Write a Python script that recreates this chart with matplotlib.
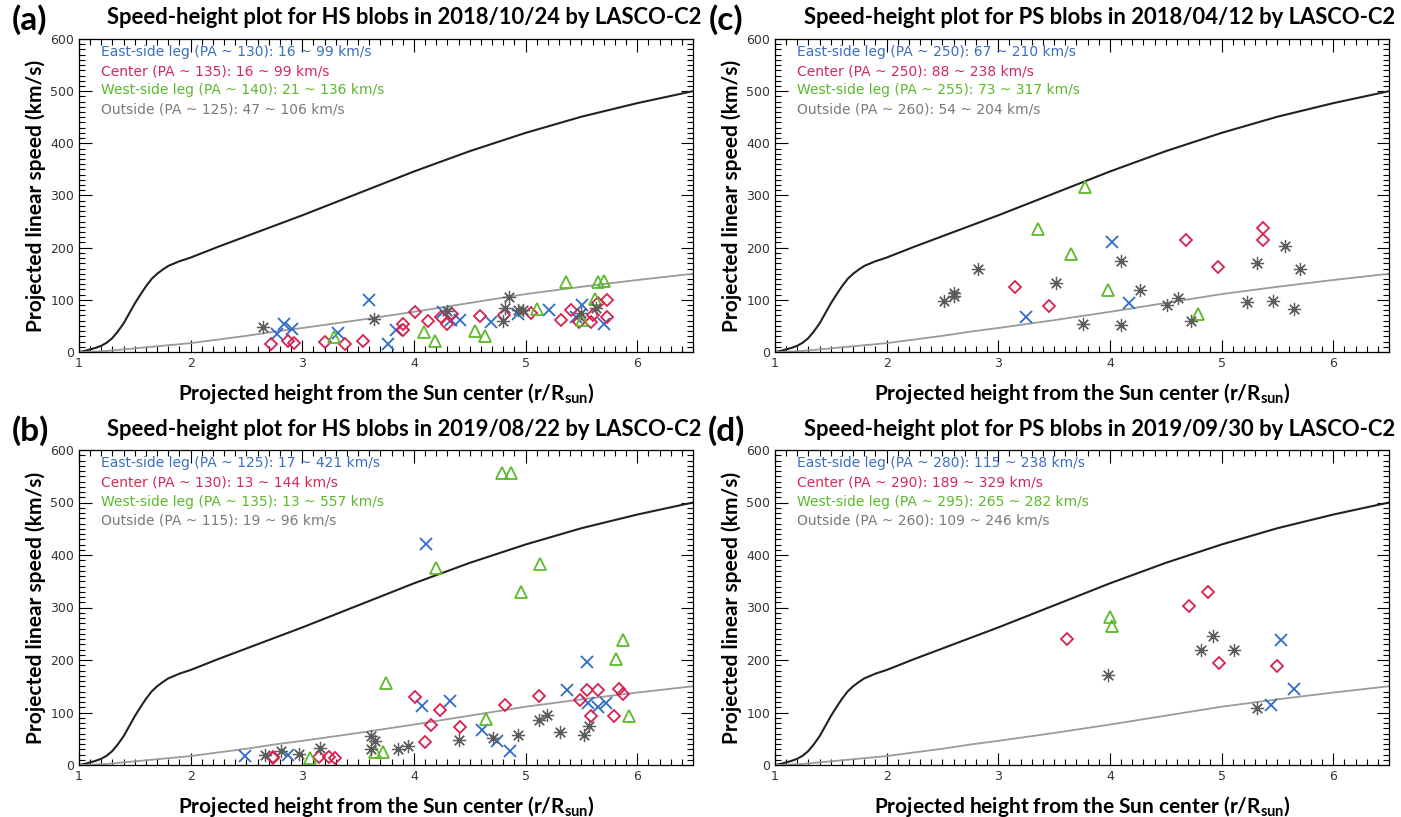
import numpy as np
import matplotlib
matplotlib.use('Agg')
import matplotlib.pyplot as plt
from matplotlib.ticker import MultipleLocator

# ─── reference speed profiles (same in every panel) ───
CURVE_H = [1.00, 1.05, 1.10, 1.15, 1.20, 1.25, 1.30, 1.35, 1.40, 1.45, 1.50,
           1.55, 1.60, 1.65, 1.70, 1.75, 1.80, 1.90, 2.00, 2.25, 2.50, 2.75,
           3.00, 3.50, 4.00, 4.50, 5.00, 5.50, 6.00, 6.50]
CURVE_FAST = [0, 2, 5, 8, 12, 18, 27, 40, 55, 74, 93, 110, 126, 140, 150,
              158, 165, 174, 181, 202, 222, 242, 262, 304, 346, 385, 420,
              451, 477, 500]
CURVE_SLOW = [0, 0, 0.5, 1, 1.5, 2, 3, 4, 5, 6, 7, 8, 9, 10, 11, 12, 13, 15,
              17, 24, 31, 39, 46, 61, 77, 94, 111, 125, 138, 150]

# ─── panel (a) HS blobs 2018/10/24 ───
A_EAST_H = [2.77, 2.84, 2.91, 3.32, 3.60, 3.77, 3.84, 4.26, 4.33, 4.41, 4.69,
            4.93, 5.21, 5.45, 5.51, 5.70]
A_EAST_V = [35, 53, 45, 37, 99, 16, 43, 77, 62, 61, 57, 73, 81, 67, 91, 53]
A_CEN_H = [2.72, 2.87, 2.93, 3.20, 3.38, 3.54, 3.90, 3.90, 4.01, 4.13, 4.24,
           4.30, 4.34, 4.59, 4.81, 5.05, 5.32, 5.41, 5.48, 5.59, 5.60, 5.65,
           5.73, 5.73]
A_CEN_V = [16, 22, 17, 19, 16, 22, 54, 43, 76, 59, 67, 53, 73, 69, 70, 75,
           61, 81, 57, 57, 70, 93, 99, 67]
A_WEST_H = [3.28, 4.09, 4.19, 4.55, 4.64, 5.10, 5.36, 5.62, 5.65, 5.70, 5.51]
A_WEST_V = [29, 38, 21, 40, 30, 83, 134, 102, 134, 136, 61]
A_OUT_H = [2.65, 3.64, 4.30, 4.85, 4.82, 4.80, 4.93, 4.98, 5.50, 5.63]
A_OUT_V = [47, 64, 78, 106, 85, 59, 81, 80, 75, 85]

# ─── panel (b) HS blobs 2019/08/22 ───
B_EAST_H = [2.49, 2.87, 4.07, 4.11, 4.32, 4.61, 4.74, 4.86, 5.37, 5.55, 5.56,
            5.65, 5.72]
B_EAST_V = [17, 19, 112, 421, 121, 67, 45, 27, 142, 196, 119, 110, 118]
B_CEN_H = [2.74, 2.74, 3.15, 3.24, 3.29, 4.01, 4.10, 4.15, 4.23, 4.41, 4.82,
           5.12, 5.49, 5.55, 5.59, 5.65, 5.79, 5.84, 5.87]
B_CEN_V = [16, 13, 15, 16, 13, 130, 43, 77, 105, 72, 114, 131, 123, 142, 94,
           142, 93, 144, 135]
B_WEST_H = [3.07, 3.65, 3.72, 3.75, 4.20, 4.65, 4.79, 4.87, 4.96, 5.13, 5.81,
            5.87, 5.93]
B_WEST_V = [13, 24, 24, 156, 376, 87, 557, 557, 330, 383, 202, 239, 93]
B_OUT_H = [2.67, 2.81, 2.97, 3.16, 3.62, 3.65, 3.62, 3.86, 3.95, 4.40, 4.71,
           4.93, 5.12, 5.19, 5.31, 5.52, 5.57]
B_OUT_V = [19, 27, 21, 32, 56, 45, 30, 30, 36, 47, 51, 57, 85, 96, 62, 57, 75]

# ─── panel (c) PS blobs 2018/04/12 ───
C_EAST_H = [3.25, 4.02, 4.17]
C_EAST_V = [67, 210, 93]
C_CEN_H = [3.15, 3.45, 4.68, 4.97, 5.37, 5.37]
C_CEN_V = [125, 88, 214, 163, 214, 238]
C_WEST_H = [3.36, 3.65, 3.78, 3.98, 4.79]
C_WEST_V = [235, 188, 317, 118, 73]
C_OUT_H = [2.51, 2.60, 2.60, 2.82, 3.52, 3.76, 4.10, 4.10, 4.27, 4.51, 4.61,
           4.73, 5.23, 5.32, 5.46, 5.57, 5.65, 5.70]
C_OUT_V = [98, 107, 114, 160, 132, 54, 174, 52, 119, 90, 104, 59, 96, 171,
           98, 204, 82, 160]

# ─── panel (d) PS blobs 2019/09/30 ───
D_EAST_H = [5.44, 5.53, 5.65]
D_EAST_V = [115, 238, 144]
D_CEN_H = [3.62, 4.71, 4.88, 4.98, 5.50]
D_CEN_V = [240, 302, 329, 195, 189]
D_WEST_H = [4.00, 4.02]
D_WEST_V = [282, 265]
D_OUT_H = [3.98, 4.82, 4.92, 5.11, 5.32]
D_OUT_V = [171, 219, 246, 219, 109]

TITLES = ['Speed-height plot for HS blobs in 2018/10/24 by LASCO-C2',
          'Speed-height plot for HS blobs in 2019/08/22 by LASCO-C2',
          'Speed-height plot for PS blobs in 2018/04/12 by LASCO-C2',
          'Speed-height plot for PS blobs in 2019/09/30 by LASCO-C2']
LETTERS = ['(a)', '(b)', '(c)', '(d)']
LEGENDS = [
    ['East-side leg (PA ~ 130): 16 ~ 99 km/s', 'Center (PA ~ 135): 16 ~ 99 km/s',
     'West-side leg (PA ~ 140): 21 ~ 136 km/s', 'Outside (PA ~ 125): 47 ~ 106 km/s'],
    ['East-side leg (PA ~ 125): 17 ~ 421 km/s', 'Center (PA ~ 130): 13 ~ 144 km/s',
     'West-side leg (PA ~ 135): 13 ~ 557 km/s', 'Outside (PA ~ 115): 19 ~ 96 km/s'],
    ['East-side leg (PA ~ 250): 67 ~ 210 km/s', 'Center (PA ~ 250): 88 ~ 238 km/s',
     'West-side leg (PA ~ 255): 73 ~ 317 km/s', 'Outside (PA ~ 260): 54 ~ 204 km/s'],
    ['East-side leg (PA ~ 280): 115 ~ 238 km/s', 'Center (PA ~ 290): 189 ~ 329 km/s',
     'West-side leg (PA ~ 295): 265 ~ 282 km/s', 'Outside (PA ~ 260): 109 ~ 246 km/s'],
]
PANELS = [
    [(A_EAST_H, A_EAST_V), (A_CEN_H, A_CEN_V), (A_WEST_H, A_WEST_V), (A_OUT_H, A_OUT_V)],
    [(B_EAST_H, B_EAST_V), (B_CEN_H, B_CEN_V), (B_WEST_H, B_WEST_V), (B_OUT_H, B_OUT_V)],
    [(C_EAST_H, C_EAST_V), (C_CEN_H, C_CEN_V), (C_WEST_H, C_WEST_V), (C_OUT_H, C_OUT_V)],
    [(D_EAST_H, D_EAST_V), (D_CEN_H, D_CEN_V), (D_WEST_H, D_WEST_V), (D_OUT_H, D_OUT_V)],
]

TXT_COL = ['#3b6fc0', '#d6285a', '#5cb82c', '#7a7a7a']
MK_COL = ['#2f6bc8', '#d8204e', '#5cba2a', '#5c5c5c']
MARKERS = ['x', 'D', '^', (8, 2, 0)]
MSIZE = [9, 6.5, 8, 9.5]

W, H = 1401, 817
fig = plt.figure(figsize=(W / 100, H / 100), dpi=100)
TITLE_FONT = ['Lato', 'DejaVu Sans']

# pixel boxes: left, top, bottom of axes frame
BOXES = [(79, 39, 352), (79, 450, 765), (775, 39, 352), (775, 450, 765)]
AX_W = 614

for i, (left, top, bot) in enumerate(BOXES):
    ax = fig.add_axes([left / W, 1 - bot / H, AX_W / W, (bot - top) / H])
    ax.plot(CURVE_H, CURVE_FAST, color='#222222', lw=1.5)
    ax.plot(CURVE_H, CURVE_SLOW, color='#9a9a9a', lw=1.3)
    for k, (hh, vv) in enumerate(PANELS[i]):
        if k == 3:
            ax.plot(hh, vv, ls='none', marker=MARKERS[k], ms=MSIZE[k],
                    color=MK_COL[k], mew=0.9)
        else:
            ax.plot(hh, vv, ls='none', marker=MARKERS[k], ms=MSIZE[k],
                    mfc='none', mec=MK_COL[k], mew=1.3)
    for k, txt in enumerate(LEGENDS[i]):
        ax.text(0.036, 0.958 - 0.061 * k, txt, transform=ax.transAxes,
                color=TXT_COL[k], fontsize=10, va='center', ha='left',
                family='DejaVu Sans')
    ax.set_xlim(1, 6.5)
    ax.set_ylim(0, 600)
    ax.xaxis.set_major_locator(MultipleLocator(1))
    ax.xaxis.set_minor_locator(MultipleLocator(0.1))
    ax.yaxis.set_major_locator(MultipleLocator(100))
    ax.yaxis.set_minor_locator(MultipleLocator(10))
    ax.tick_params(which='both', direction='in', top=True, right=True,
                   labelsize=9, labelcolor='#333333', width=0.8)
    ax.tick_params(which='major', length=9)
    ax.tick_params(which='minor', length=4)
    for s in ax.spines.values():
        s.set_linewidth(0.9)
    ax.set_xlabel('Projected height from the Sun center (r/R$_{\\mathregular{sun}}$)',
                  fontsize=15, fontweight='bold', family=TITLE_FONT, labelpad=8)
    ax.set_ylabel('Projected linear speed (km/s)', fontsize=15,
                  fontweight='bold', family=TITLE_FONT, labelpad=3)
    cx = left + 325
    fig.text(cx / W, 1 - (top - 21) / H, TITLES[i], ha='center', va='center',
             fontsize=15.8, fontweight='bold', family=TITLE_FONT)
    fig.text((left - 49) / W, 1 - (top - 19) / H, LETTERS[i], ha='center',
             va='center', fontsize=24, fontweight='bold', family=TITLE_FONT)

fig.savefig('out.png', dpi=100)
